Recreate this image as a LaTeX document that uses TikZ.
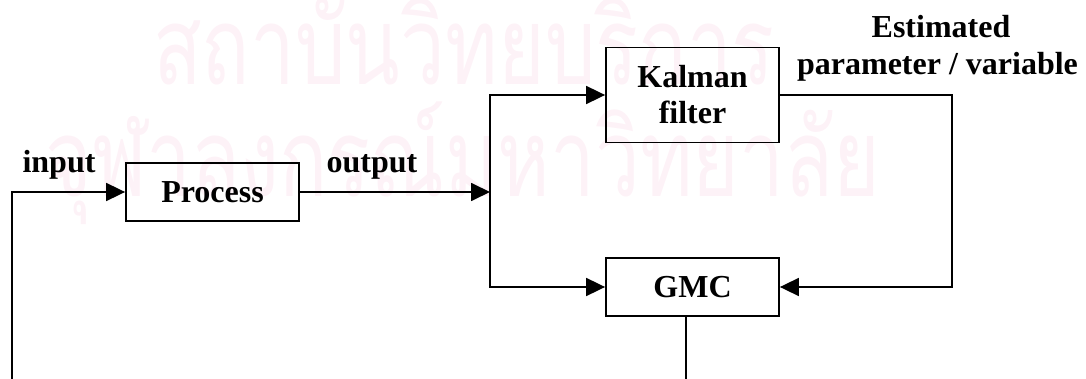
\documentclass[tikz,border=0pt]{standalone}
\usepackage{fontspec}
\setmainfont{Liberation Serif}
\newfontfamily\thaifont[Script=Thai]{Loma}
\usetikzlibrary{arrows.meta}
\definecolor{wm}{RGB}{253,242,247}
\tikzset{
  blk/.style={draw, line width=1.8pt, rectangle, minimum width=173pt, inner sep=0pt,
    font=\fontsize{32}{36}\selectfont\bfseries, align=center},
  lbl/.style={font=\fontsize{32}{36}\selectfont\bfseries, inner sep=0pt, anchor=base},
  wmk/.style={font=\thaifont\fontsize{108}{120}\selectfont, text=wm, inner sep=0pt, anchor=base west},
  conn/.style={line width=1.8pt},
  arr/.style={conn, -{Triangle[length=19pt,width=18pt]}}
}
\begin{document}
\begin{tikzpicture}[x=1pt,y=-1pt]
\useasboundingbox (0,0) rectangle (1086,379);
% watermark
\node[wmk] (wm1) at (153,85) {\scalebox{0.74}[1]{สถาบันวิทยบริการ}};
\node[wmk] (wm2) at (45,197) {\scalebox{0.74}[1]{จุฬาลงกรณ์มหาวิทยาลัย}};
% blocks
\node[blk, minimum height=58pt] (proc) at (212.5,192) {Process};
\node[blk, minimum height=95pt] (kal) at (692.5,95) {Kalman\\filter};
\node[blk, minimum height=58pt] (gmc) at (692.5,287) {GMC};
% labels
\node[lbl] (lin) at (59,173) {input};
\node[lbl] (lout) at (372,173) {output};
\node[lbl] (est1) at (941,38) {Estimated};
\node[lbl] (est2) at (937.5,75) {parameter / variable};
% coordinates
\coordinate (in0) at (12,379);
\coordinate (split) at (490,192);
\coordinate (fb) at (952,287);
\coordinate (gout) at (686,379);
% connectors
\draw[arr] (in0) |- (proc.west);
\draw[arr] (proc.east) -- (split);
\draw[arr] (split) |- (kal.west);
\draw[arr] (split) |- (gmc.west);
\draw[arr] (kal.east) -| (fb) -- (gmc.east);
\draw[conn] (gout |- gmc.south) -- (gout);
\end{tikzpicture}
\end{document}
